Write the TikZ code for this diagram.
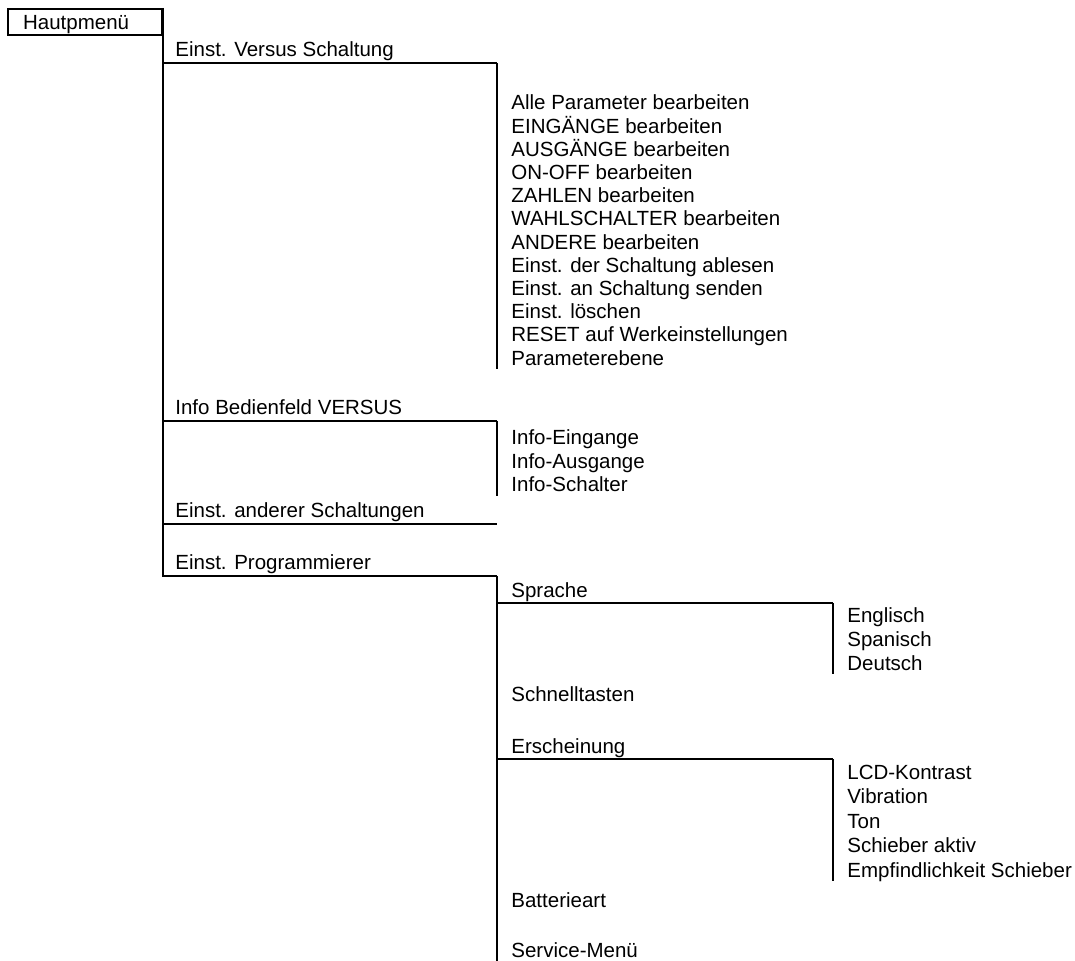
\documentclass[tikz,border=0pt]{standalone}
\usepackage{fontspec}
\setmainfont{Liberation Sans}
\tikzset{
	tree/.style={line width=1.1pt},
	item/.style={anchor=base west, inner sep=0pt, font=\fontsize{10.25}{12}\selectfont},
	menubox/.style={draw, line width=1.1pt, anchor=north west, minimum width=77pt, minimum height=13pt,
		text width=62pt, text depth=0pt, inner xsep=7.5pt, inner ysep=0pt, align=left, font=\fontsize{10.25}{12}\selectfont}
}
\begin{document}
\begin{tikzpicture}[x=0.5pt, y=-0.5pt]
		\useasboundingbox (0,0) rectangle (1075,961);
		% Hauptebene
		\node[menubox] (haupt) at (7,8) {Hautpmenü};
		\node[item] (versus) at (175,57) {Einst. Versus Schaltung};
		\node[item] (info) at (175,415) {Info Bedienfeld VERSUS};
		\node[item] (andere) at (175,518) {Einst. anderer Schaltungen};
		\node[item] (prog) at (175,570) {Einst. Programmierer};
		\coordinate (versus-r) at (497,63);
		\coordinate (info-r) at (497,421);
		\coordinate (andere-r) at (497,524);
		\coordinate (prog-r) at (497,576);
		\draw[tree] (haupt.north east) |- (prog-r);
		\foreach \b in {versus,info,andere}
			\draw[tree] (haupt.east |- \b-r) -- (\b-r);
		% Einst. Versus Schaltung
		\foreach \t [count=\i] in {Alle Parameter bearbeiten, EINGÄNGE bearbeiten, AUSGÄNGE bearbeiten,
			ON-OFF bearbeiten, ZAHLEN bearbeiten, WAHLSCHALTER bearbeiten, ANDERE bearbeiten,
			Einst. der Schaltung ablesen, Einst. an Schaltung senden, Einst. löschen,
			RESET auf Werkeinstellungen, Parameterebene}
			\node[item] (v\i) at (511,{110+(\i-1)*23.2}) {\t};
		\draw[tree] (versus-r) -- (versus-r |- v12.base) -- ++(0,4);
		% Info Bedienfeld
		\foreach \t [count=\i] in {Info-Eingange, Info-Ausgange, Info-Schalter}
			\node[item] (i\i) at (511,{445+(\i-1)*23.5}) {\t};
		\draw[tree] (info-r) -- (info-r |- i3.base) -- ++(0,4);
		% Einst. Programmierer
		\node[item] (sprache) at (511,597) {Sprache};
		\node[item] (tasten) at (511,701) {Schnelltasten};
		\node[item] (ersch) at (511,753) {Erscheinung};
		\node[item] (batt) at (511,907) {Batterieart};
		\node[item] (service) at (511,957) {Service-Menü};
		\coordinate (sprache-r) at (833,603);
		\coordinate (ersch-r) at (833,759);
		\draw[tree] (prog-r) -- (prog-r |- service.base) -- ++(0,4);
		\draw[tree] (prog-r |- sprache-r) -- (sprache-r);
		\draw[tree] (prog-r |- ersch-r) -- (ersch-r);
		\foreach \t [count=\i] in {Englisch, Spanisch, Deutsch}
			\node[item] (s\i) at (847,{623+(\i-1)*23.5}) {\t};
		\draw[tree] (sprache-r) -- (sprache-r |- s3.base) -- ++(0,4);
		\foreach \t [count=\i] in {LCD-Kontrast, Vibration, Ton, Schieber aktiv, Empfindlichkeit Schieber}
			\node[item] (e\i) at (847,{779+(\i-1)*24.5}) {\t};
		\draw[tree] (ersch-r) -- (ersch-r |- e5.base) -- ++(0,4);
	\end{tikzpicture}
\end{document}
